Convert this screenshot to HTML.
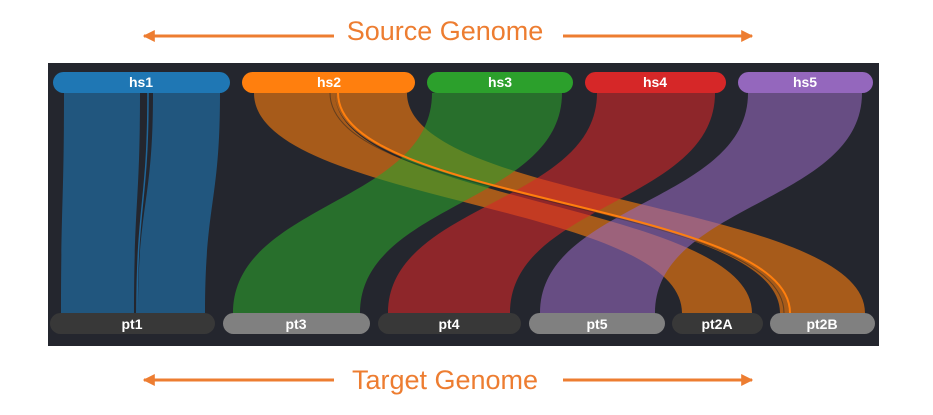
<!DOCTYPE html>
<html><head><style>
body{margin:0;background:#fff;width:933px;height:410px;overflow:hidden;font-family:"Liberation Sans",sans-serif}
</style></head><body>
<svg width="933" height="410" xmlns="http://www.w3.org/2000/svg">
<defs>
<marker id="a" viewBox="0 0 10 10" refX="9" refY="5" markerWidth="4" markerHeight="4" orient="auto-start-reverse"><path d="M0,0 L10,5 L0,10 z" fill="#ed7d31"/></marker>
</defs>
<text x="445" y="40" text-anchor="middle" font-size="27" fill="#ed7d31" font-family="Liberation Sans,sans-serif">Source Genome</text>
<line x1="144" y1="36" x2="334" y2="36" stroke="#ed7d31" stroke-width="3" marker-start="url(#a)"/>
<line x1="563" y1="36" x2="752" y2="36" stroke="#ed7d31" stroke-width="3" marker-end="url(#a)"/>
<text x="445" y="389" text-anchor="middle" font-size="27" fill="#ed7d31" font-family="Liberation Sans,sans-serif">Target Genome</text>
<line x1="144" y1="380" x2="334" y2="380" stroke="#ed7d31" stroke-width="3" marker-start="url(#a)"/>
<line x1="563" y1="380" x2="752" y2="380" stroke="#ed7d31" stroke-width="3" marker-end="url(#a)"/>
<rect x="48" y="63" width="831" height="283" fill="#24262e"/>
<g fill-opacity="0.6">
<path d="M64,93 C64,203 61,203 61,313 L134,313 C134,203 140,203 140,93Z" fill="#1f77b4"/>
<path d="M153,93 C153,203 138,203 138,313 L205,313 C205,203 220,203 220,93Z" fill="#1f77b4"/>
<path d="M254,93 C254,203 682,203 682,313 L752,313 C752,203 335,203 335,93Z" fill="#ff7f0e"/>
<path d="M335,93 C335,203 780,203 780,313 L865,313 C865,203 407,203 407,93Z" fill="#ff7f0e"/>
<path d="M432,93 C432,203 233,203 233,313 L360,313 C360,203 562,203 562,93Z" fill="#2ca02c"/>
<path d="M597,93 C597,203 388,203 388,313 L510,313 C510,203 715,203 715,93Z" fill="#d62728"/>
<path d="M748,93 C748,203 540,203 540,313 L655,313 C655,203 862,203 862,93Z" fill="#9467bd"/>
</g>
<path d="M338,93 C338,203 790,203 790,313" fill="none" stroke="#ff7f0e" stroke-width="2"/>
<path d="M330,93 C330,203 784,203 784,313" fill="none" stroke="#222" stroke-width="1" opacity="0.5"/>
<path d="M148,93 C148,203 137,203 137,313" fill="none" stroke="#1f77b4" stroke-width="1.5" opacity="0.8"/>
<g font-size="14" font-weight="bold" fill="#fff" text-anchor="middle" font-family="Liberation Sans,sans-serif">
<rect x="53" y="72" width="177" height="21" rx="10.5" fill="#1f77b4"/><text x="141" y="87">hs1</text>
<rect x="242" y="72" width="173" height="21" rx="10.5" fill="#ff7f0e"/><text x="329" y="87">hs2</text>
<rect x="427" y="72" width="146" height="21" rx="10.5" fill="#2ca02c"/><text x="500" y="87">hs3</text>
<rect x="585" y="72" width="141" height="21" rx="10.5" fill="#d62728"/><text x="655" y="87">hs4</text>
<rect x="738" y="72" width="135" height="21" rx="10.5" fill="#9467bd"/><text x="805" y="87">hs5</text>
<rect x="50" y="313" width="165" height="21" rx="10.5" fill="#383838"/><text x="132" y="329">pt1</text>
<rect x="223" y="313" width="147" height="21" rx="10.5" fill="#808080"/><text x="296" y="329">pt3</text>
<rect x="378" y="313" width="143" height="21" rx="10.5" fill="#383838"/><text x="449" y="329">pt4</text>
<rect x="529" y="313" width="136" height="21" rx="10.5" fill="#808080"/><text x="597" y="329">pt5</text>
<rect x="672" y="313" width="91" height="21" rx="10.5" fill="#383838"/><text x="717" y="329">pt2A</text>
<rect x="770" y="313" width="105" height="21" rx="10.5" fill="#808080"/><text x="822" y="329">pt2B</text>
</g>
</svg>
</body></html>
